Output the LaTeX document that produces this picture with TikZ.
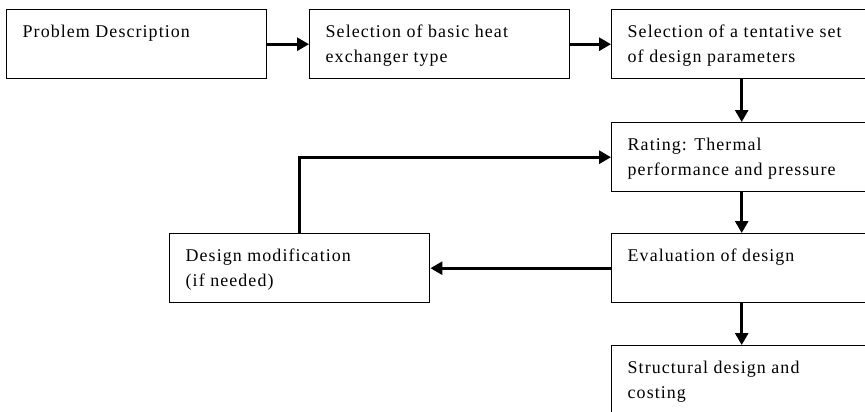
\documentclass[tikz,border=0pt]{standalone}
\usepackage{fontspec}
\setmainfont[LetterSpace=6]{Liberation Serif}
\usetikzlibrary{arrows.meta}

\tikzset{
  stage/.style={draw, line width=1.4bp, anchor=north west, inner xsep=16bp, inner ysep=13bp,
    minimum width=260bp, font=\fontsize{18}{25}\selectfont},
  flow/.style={line width=2.8bp, -{Triangle[length=12bp,width=13bp]}}
}
\newcommand{\stagetext}[1]{\parbox[t][43bp][t]{228bp}{\raggedright\rule{0pt}{15bp}#1}}

\begin{document}
\begin{tikzpicture}[x=1bp,y=-1bp]
\useasboundingbox (0,0) rectangle (865,411);
\clip (0,0) rectangle (865,411);
\fill[white] (0,0) rectangle (865,411);

\node[stage] (prob)   at (6,9)     {\stagetext{Problem Description}};
\node[stage] (htype)  at (309,9)   {\stagetext{Selection of basic heat\\exchanger type}};
\node[stage] (params) at (611,9)   {\stagetext{Selection of a tentative set\\of design parameters}};
\node[stage] (rating) at (611,122) {\stagetext{Rating: Thermal\\performance and pressure}};
\node[stage] (evalu)  at (611,233) {\stagetext{Evaluation of design}};
\node[stage] (modif)  at (169,233) {\stagetext{Design modification\\(if needed)}};
\node[stage] (struct) at (611,345) {\stagetext{Structural design and\\costing}};

\draw[flow] (prob) -- (htype);
\draw[flow] (htype) -- (params);
\draw[flow] (params) -- (rating);
\draw[flow] (rating) -- (evalu);
\draw[flow] (evalu) -- (modif);
\draw[flow] (modif.north) |- (rating.west);
\draw[flow] (evalu) -- (struct);
\end{tikzpicture}
\end{document}
